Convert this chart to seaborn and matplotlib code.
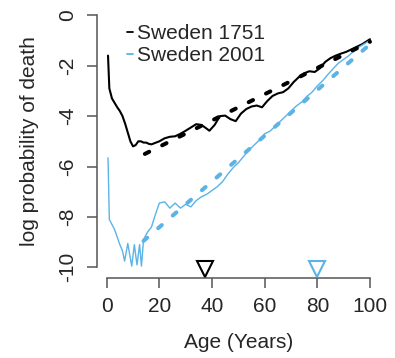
import numpy as np
import pandas as pd
import seaborn as sns
import matplotlib.pyplot as plt
from matplotlib.lines import Line2D

ages_1751 = [0.5, 1, 2, 4, 5, 6, 7, 8, 9, 10, 11, 12, 13, 14, 15, 16, 17, 18, 20,
             22, 24, 26, 28, 30, 32, 34, 36, 38, 39, 41, 43, 45, 47, 49, 51, 53,
             55, 57, 59, 61, 63, 65, 67, 69, 71, 73, 75, 77, 79, 81, 83, 85, 87,
             89, 91, 93, 95, 97, 100]
logq_1751 = [-1.6, -2.9, -3.3, -3.65, -3.8, -4.0, -4.3, -4.65, -5.0, -5.2, -5.15,
             -5.0, -5.0, -5.05, -5.05, -5.1, -5.12, -5.08, -5.0, -4.88, -4.82,
             -4.8, -4.7, -4.58, -4.45, -4.32, -4.35, -4.5, -4.58, -4.35, -4.0,
             -3.98, -4.12, -4.2, -3.9, -3.72, -3.62, -3.58, -3.65, -3.4, -3.2,
             -3.1, -3.05, -2.9, -2.65, -2.45, -2.3, -2.22, -2.25, -2.1, -1.85,
             -1.7, -1.6, -1.52, -1.45, -1.35, -1.25, -1.15, -0.95]

# Sweden 2001, observed log mortality
ages_2001 = [0.5, 1, 3, 5, 6, 6.8, 8, 9.5, 10.5, 11.5, 12.5, 13.2, 14, 15.5, 17,
             18.5, 20, 22, 24, 26, 28, 30, 32, 34, 36, 38, 40, 42, 44, 46, 48,
             50, 52, 54, 56, 58, 60, 62, 64, 66, 68, 70, 72, 74, 76, 78, 80, 82,
             84, 86, 88, 90, 92, 94, 96, 98, 100]
logq_2001 = [-5.65, -8.1, -8.5, -9.1, -9.35, -9.75, -9.05, -9.95, -9.1, -9.9,
             -9.1, -9.95, -8.9, -8.6, -8.4, -7.9, -7.45, -7.4, -7.65, -7.45,
             -7.65, -7.5, -7.6, -7.35, -7.2, -7.1, -6.95, -6.8, -6.6, -6.3,
             -6.05, -5.85, -5.6, -5.35, -5.15, -4.95, -4.7, -4.6, -4.4, -4.2,
             -4.0, -3.8, -3.6, -3.45, -3.22, -3.05, -2.8, -2.6, -2.35, -2.12,
             -1.9, -1.75, -1.6, -1.4, -1.25, -1.12, -1.0]

# fitted (dashed) lines
fit_ages_1751 = [14.5, 100]
fit_logq_1751 = [-5.5, -1.05]
fit_ages_2001 = [14, 100]
fit_logq_2001 = [-8.95, -1.15]

# triangle markers on the age axis
marker_ages = [37.4, 80]
marker_y = [-10.08, -10.08]

labels = ['Sweden 1751', 'Sweden 2001']
colors = ['black', '#5BB3E6']

sns.set_style('white')
plt.rcParams['font.family'] = ['Liberation Sans', 'DejaVu Sans']
plt.rcParams['axes.unicode_minus'] = False

fig = plt.figure(figsize=(3.95, 3.58), dpi=100)
ax = fig.add_axes([0.2448, 0.2243, 0.9633 - 0.2448, 0.9855 - 0.2243])

sns.lineplot(x=ages_1751, y=logq_1751, color=colors[0], lw=1.5, ax=ax)
sns.lineplot(x=ages_2001, y=logq_2001, color=colors[1], lw=1.0, ax=ax)
for xs, ys, c in [(fit_ages_1751, fit_logq_1751, colors[0]),
                  (fit_ages_2001, fit_logq_2001, colors[1])]:
    sns.lineplot(x=xs, y=ys, color=c, lw=2.9, ax=ax)
    ln = ax.lines[-1]
    ln.set_dashes((1.2, 3.6))
    ln.set_dash_capstyle('round')

for xa, ya, c in zip(marker_ages, marker_y, colors):
    ax.plot([xa], [ya], marker='v', ms=11, mfc='none', mec=c, mew=1.5,
            ls='none', clip_on=False, zorder=5)

ax.set_xlim(-3.8, 104)
ax.set_ylim(-10.41, 0.4)
ax.set_xticks([0, 20, 40, 60, 80, 100])
ax.set_yticks([0, -2, -4, -6, -8, -10])
for s in ['top', 'right']:
    ax.spines[s].set_visible(False)
ax.spines['left'].set_bounds(-10, 0)
ax.spines['bottom'].set_bounds(0, 100)
for s in ['left', 'bottom']:
    ax.spines[s].set_color('#555555')
    ax.spines[s].set_linewidth(1.1)
ax.tick_params(axis='both', which='major', length=7, width=1.1,
               color='#555555', labelsize=15, pad=7, direction='out',
               bottom=True, left=True)
for t in ax.get_yticklabels():
    t.set_rotation(90)
    t.set_va('center')
ax.set_xlabel('Age (Years)', fontsize=15, labelpad=12)
ax.set_ylabel('log probability of death', fontsize=15, labelpad=14)

handles = [Line2D([0], [0], color=c, lw=1.3) for c in colors]
ax.legend(handles, labels, loc='upper left', bbox_to_anchor=(0.322, 0.932),
          bbox_transform=fig.transFigure, frameon=False, fontsize=15,
          handlelength=0.3, handletextpad=0.15, labelspacing=0.15,
          borderpad=0, borderaxespad=0)

fig.savefig('out.png', dpi=100)
